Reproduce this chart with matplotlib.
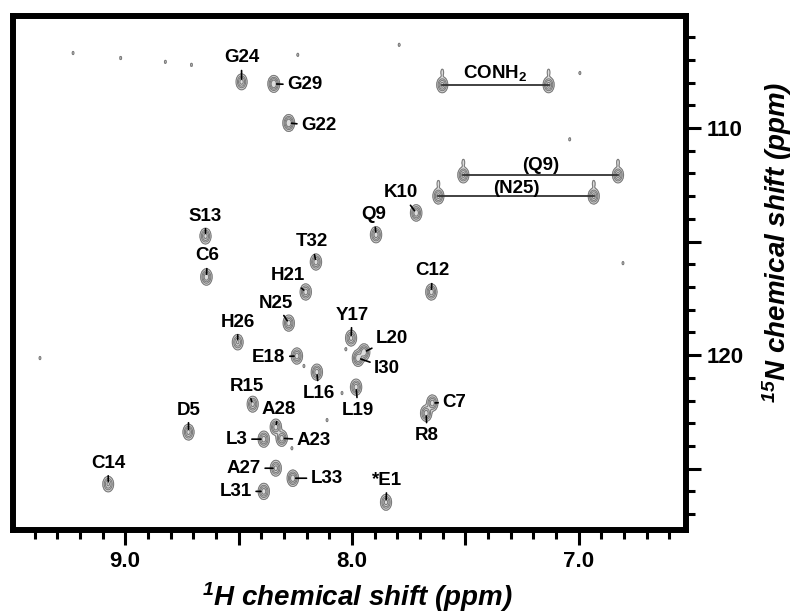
import numpy as np
import matplotlib
matplotlib.use('Agg')
import matplotlib.pyplot as plt
from matplotlib.ticker import MultipleLocator, FuncFormatter

plt.rcParams['font.family'] = ['Liberation Sans', 'DejaVu Sans']
plt.rcParams['mathtext.fontset'] = 'custom'
plt.rcParams['mathtext.rm'] = 'Liberation Sans:italic:bold'
plt.rcParams['mathtext.it'] = 'Liberation Sans:italic:bold'
plt.rcParams['mathtext.bf'] = 'Liberation Sans:bold'

# backbone amide peaks: label, 1H shift, 15N shift, relative height
names = ['G24', 'G29', 'G22', 'K10', 'S13', 'Q9', 'T32', 'C6', 'H21', 'C12',
         'N25', 'H26', 'Y17', 'L20', 'I30', 'E18', 'L16', 'L19', 'R15', 'D5',
         'A28', 'A23', 'L3', 'A27', 'L33', 'L31', '*E1', 'C14', 'C7', 'R8']
h_shift = [8.487, 8.345, 8.279, 7.717, 8.646, 7.894, 8.159, 8.642, 8.204, 7.650,
           8.279, 8.504, 8.004, 7.947, 7.973, 8.243, 8.155, 7.982, 8.438, 8.721,
           8.336, 8.310, 8.389, 8.336, 8.261, 8.389, 7.850, 9.075, 7.646, 7.673]
n_shift = [107.97, 108.06, 109.78, 113.74, 114.76, 114.70, 115.90, 116.56, 117.22, 117.22,
           118.59, 119.43, 119.25, 119.87, 120.13, 120.04, 120.75, 121.41, 122.16, 123.39,
           123.17, 123.66, 123.70, 124.98, 125.42, 126.00, 126.48, 125.68, 122.11, 122.56]
height = [0.9, 1.3, 1.3, 1.1, 0.9, 1.0, 1.0, 1.1, 1.0, 1.0,
          1.0, 0.8, 0.9, 1.2, 1.2, 1.0, 1.0, 1.0, 0.9, 0.9,
          1.0, 1.0, 1.0, 0.9, 1.1, 1.0, 0.9, 0.8, 1.0, 1.0]

# side chain NH2 pairs: label, H left, H right, 15N
pair_names = ['CONH$_\\mathbf{2}$', '(Q9)', '(N25)']
pair_h1 = [7.602, 7.509, 7.619]
pair_h2 = [7.133, 6.827, 6.934]
pair_n = [108.10, 112.07, 113.00]

# weak noise spots
noise_h = [9.23, 8.823, 8.708, 9.02, 7.792, 8.239, 7.04, 6.995, 6.805, 9.376, 8.265, 8.212, 8.11, 8.027, 8.044]
noise_n = [106.7, 107.09, 107.22, 106.92, 106.34, 106.78, 110.5, 107.58, 115.95, 120.13, 124.1, 120.48, 122.86, 119.74, 121.67]

# label offsets from the peak, pixels (x right, y down)
label_off = {'G24': (0, -24), 'G29': (31, 1), 'G22': (30, 3), 'K10': (-15, -20),
             'S13': (0, -20), 'Q9': (-2, -20), 'T32': (-4, -20), 'C6': (1, -21),
             'H21': (-18, -16), 'C12': (1, -21), 'N25': (-13, -20), 'H26': (0, -20),
             'Y17': (1, -23), 'L20': (28, -14), 'I30': (29, 10), 'E18': (-28, 1),
             'L16': (2, 21), 'L19': (2, 23), 'R15': (-6, -18), 'D5': (0, -22),
             'A28': (3, -18), 'A23': (32, 2), 'L3': (-27, 0), 'A27': (-32, 0),
             'L33': (34, 0), 'L31': (-28, 0), '*E1': (1, -22), 'C14': (0, -21),
             'C7': (22, -1), 'R8': (1, 22)}
pair_off = [12, 9, 8]

# build the spectrum
h = np.linspace(9.55, 6.45, 1300)
n = np.linspace(104.5, 128.2, 1000)
H, N = np.meshgrid(h, n)
Z = np.zeros_like(H)
sh, sn = 0.0105, 0.15
for h0, n0, a in zip(h_shift, n_shift, height):
    Z += a * np.exp(-0.5 * ((H - h0) / sh) ** 2 - 0.5 * ((N - n0) / sn) ** 2)
for h1, h2, n0 in zip(pair_h1, pair_h2, pair_n):
    for h0 in (h1, h2):
        Z += 0.9 * np.exp(-0.5 * ((H - h0) / sh) ** 2 - 0.5 * ((N - n0) / sn) ** 2)
        Z += 0.12 * np.exp(-0.5 * ((H - h0) / 0.005) ** 2 - 0.5 * ((N - n0 + 0.55) / 0.12) ** 2)
for h0, n0 in zip(noise_h, noise_n):
    Z += 0.1 * np.exp(-0.5 * ((H - h0) / 0.004) ** 2 - 0.5 * ((N - n0) / 0.07) ** 2)

fig = plt.figure(figsize=(7.93, 6.15), dpi=100)
ax = fig.add_axes([0.0158, 0.1382, 0.8493, 0.8358])

ax.contourf(H, N, Z, levels=[0.06, 100], colors=['#dcdcdc'])
ax.contour(H, N, Z, levels=[0.06, 0.2, 0.4, 0.7], colors='#7c7c7c', linewidths=0.8)

for h1, h2, n0, lab, off in zip(pair_h1, pair_h2, pair_n, pair_names, pair_off):
    ax.plot([h1, h2], [n0, n0], color='#333333', lw=1.3)
    ax.annotate(lab, xy=((h1 + h2) / 2, n0), xytext=(0, off), textcoords='offset pixels',
                ha='center', va='center', fontsize=13.5, fontweight='bold')

for lab, h0, n0 in zip(names, h_shift, n_shift):
    dx, dy = label_off[lab]
    ax.annotate(lab, xy=(h0, n0), xytext=(dx, -dy), textcoords='offset pixels',
                ha='center', va='center', fontsize=13.5, fontweight='bold',
                arrowprops=dict(arrowstyle='-', color='black', lw=1.2, shrinkA=1, shrinkB=2))

ax.set_xlim(9.497, 6.527)
ax.set_ylim(127.7, 105.07)

ax.xaxis.set_major_locator(MultipleLocator(0.5))
ax.xaxis.set_minor_locator(MultipleLocator(0.1))
ax.xaxis.set_major_formatter(FuncFormatter(lambda v, p: f'{v:.1f}' if abs(v - round(v)) < 1e-6 else ''))
ax.yaxis.tick_right()
ax.yaxis.set_major_locator(MultipleLocator(5))
ax.yaxis.set_minor_locator(MultipleLocator(1))
ax.yaxis.set_major_formatter(FuncFormatter(lambda v, p: f'{v:.0f}' if abs(v % 10) < 1e-6 else ''))

ax.tick_params(which='major', direction='out', length=10.8, width=2.2, labelsize=16, pad=4)
ax.tick_params(which='minor', direction='out', length=6.5, width=2.2)
for t in ax.get_xticklabels() + ax.get_yticklabels():
    t.set_fontweight('bold')
for s in ax.spines.values():
    s.set_linewidth(4.3)

fig.text(357 / 793, 1 - 597 / 615, r'$^{1}$H chemical shift (ppm)', fontsize=20, style='italic',
         fontweight='bold', ha='center', va='center')
fig.text(777 / 793, 1 - 242 / 615, r'$^{15}$N chemical shift (ppm)', fontsize=20, style='italic',
         fontweight='bold', ha='center', va='center', rotation=90)

fig.savefig('out.png', dpi=100)
